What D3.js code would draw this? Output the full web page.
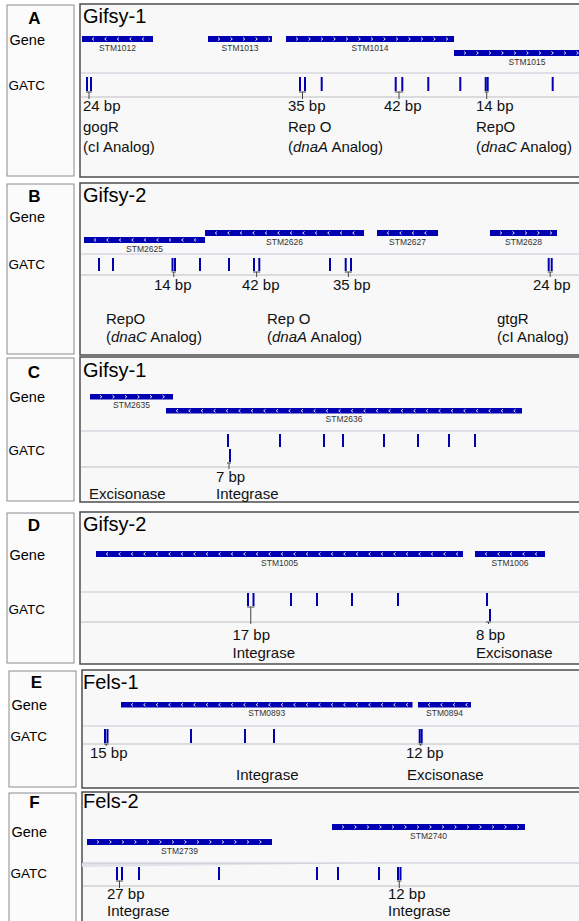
<!DOCTYPE html>
<html><head><meta charset="utf-8">
<script src="https://cdn.jsdelivr.net/npm/d3@7"></script>
<style>
body{margin:0;background:#fff}
svg{display:block}
text{font-family:"Liberation Sans",Arial,Helvetica,sans-serif}
</style>
</head><body>
<svg id="chart" width="579" height="921"></svg>
<script>
// ---------------- DATA (relative position within each 500-unit window) ----------------
const panelIds   = ["A","B","C","D","E","F"];
const phageNames = ["Gifsy-1","Gifsy-2","Gifsy-1","Gifsy-2","Fels-1","Fels-2"];
const trackNames = ["Gene","GATC"];

// genes: name, start, end, strand, row
const genesA = [["STM1012",2,73,"-",0],["STM1013",128,192,"+",0],["STM1014",206,374,"+",0],["STM1015",374,520,"+",1]];
const genesB = [["STM2625",4,125,"-",1],["STM2626",125,284,"-",0],["STM2627",297,358,"-",0],["STM2628",410,477,"+",0]];
const genesC = [["STM2635",10,93,"+",0],["STM2636",86,442,"-",1]];
const genesD = [["STM1005",16,383,"-",0],["STM1006",395,465,"-",0]];
const genesE = [["STM0893",41,332.5,"-",0],["STM0894",338,391,"-",0]];
const genesF = [["STM2740",252,445,"+",0],["STM2739",7,192,"+",1]];

// GATC sites (first lane) and second lane
const gatcA  = [7,11,220,225,241.7,315.7,322.3,348.3,380.3,405.7,407.7,472.7];
const gatcB  = [19,33,92.5,95,120,149,174,179.3,250,265.7,271,468.7,471.7];
const gatcC  = [148,200,244,263,304,338,369,395];
const gatcC2 = [150];
const gatcD  = [168,173.5,211,237,272,318,407];
const gatcD2 = [410];
const gatcE  = [25,27.5,111,165,194,339.7,341.7];
const gatcF  = [37,42,59,139,237,258,299,318,320.5];

// spacing between paired GATC sites: from, to, label, label position
const spacersA = [[7,11,"24 bp",3],[220,225,"35 bp",208],[315.7,322.3,"42 bp",304],[405.7,407.7,"14 bp",396]];
const spacersB = [[92.5,95,"14 bp",74],[174,179.3,"42 bp",162],[265.7,271,"35 bp",253],[468.7,471.7,"24 bp",453]];
const spacersC = [[148,150,"7 bp",136]];
const spacersD = [[168,173.5,"17 bp",152.5],[407,410,"8 bp",396]];
const spacersE = [[25,27.5,"15 bp",10],[339.7,341.7,"12 bp",326]];
const spacersF = [[37,42,"27 bp",27],[318,320.5,"12 bp",308]];

// protein annotations: position, name, analog (optional)
const proteinsA = [[3,"gogR","cI"],[208,"Rep O","dnaA"],[396,"RepO","dnaC"]];
const proteinsB = [[26,"RepO","dnaC"],[187,"Rep O","dnaA"],[417,"gtgR","cI"]];
const proteinsC = [[9,"Excisonase"],[136,"Integrase"]];
const proteinsD = [[152.5,"Integrase"],[396,"Excisonase"]];
const proteinsE = [[156,"Integrase"],[327,"Excisonase"]];
const proteinsF = [[27,"Integrase"],[308,"Integrase"]];

// ---------------- LAYOUT ----------------
const layout = [
 {top:4,  bottom:177, main:80, lb:[7,74], letterX:34.5, letterY:24, titleY:23, geneY:45, gatcY:90, rowY:[36,50], barH:6, sep1:73, sep2:97, lanes:[[77,91]], bpY:111, protY:[132,152]},
 {top:183,bottom:355, main:80, lb:[7,74], letterX:34.5, letterY:202, titleY:202, geneY:222, gatcY:269, rowY:[230,237], barH:6, sep1:254, sep2:275, lanes:[[258,271]], bpY:290, protY:[324,342]},
 {top:357,bottom:502, main:80, lb:[7,74], letterX:34, letterY:378, titleY:377, geneY:402, gatcY:455, rowY:[394,408], barH:5.5, sep1:431, sep2:467, lanes:[[434,447],[449,462]], bpY:481.5, protY:[499]},
 {top:512,bottom:664, main:80, lb:[7,74], letterX:34, letterY:531, titleY:531, geneY:560, gatcY:614, rowY:[551], barH:6, sep1:592, sep2:622, lanes:[[593,606],[609,621]], bpY:640, protY:[657.5]},
 {top:670,bottom:788, main:82, lb:[9,76], letterX:36.5, letterY:688, titleY:689, geneY:710, gatcY:741, rowY:[702], barH:5.5, sep1:726, sep2:744, lanes:[[729,743]], bpY:758, protY:[780]},
 {top:792,bottom:940, main:82, lb:[9,76], letterX:34.5, letterY:808, titleY:808, geneY:837, gatcY:878, rowY:[824,839], barH:6, sep1:863, sep2:886, lanes:[[867,880]], bpY:898.5, protY:[916]}
];

const geneTables = [genesA,genesB,genesC,genesD,genesE,genesF];
const gatcTables = [gatcA,gatcB,gatcC,gatcD,gatcE,gatcF];
const gatc2Tables = [[],[],gatcC2,gatcD2,[],[]];
const spacerTables = [spacersA,spacersB,spacersC,spacersD,spacersE,spacersF];
const proteinTables = [proteinsA,proteinsB,proteinsC,proteinsD,proteinsE,proteinsF];

const BLUE = "#0000b2";
const svg = d3.select("#chart");
const x = d3.scaleLinear().domain([0,500]).range([80,580]);

panelIds.forEach((id,i)=>{
  const L = layout[i];
  const g = svg.append("g");
  // boxes
  g.append("rect").attr("x",L.main).attr("y",L.top).attr("width",620).attr("height",L.bottom-L.top)
    .attr("fill","#f8f8f8").attr("stroke","#4d4d4d").attr("stroke-width",1.5);
  g.append("rect").attr("x",L.lb[0]).attr("y",L.top+1).attr("width",L.lb[1]-L.lb[0]).attr("height",L.bottom-L.top-2)
    .attr("fill","#fbfbfb").attr("stroke","#8c8c8c").attr("stroke-width",1);
  // left labels
  g.append("text").attr("x",L.letterX).attr("y",L.letterY).attr("text-anchor","middle")
    .attr("font-size",17).attr("font-weight","bold").text(id);
  g.append("text").attr("x",L.lb[0]+2.5).attr("y",L.geneY).attr("font-size",14.5).text(trackNames[0]);
  g.append("text").attr("x",L.lb[0]+1.5).attr("y",L.gatcY).attr("font-size",13.5).text(trackNames[1]);
  // title
  g.append("text").attr("x",83).attr("y",L.titleY).attr("font-size",20).text(phageNames[i]);
  // separators
  if (i===5){
    g.append("path").attr("d",`M${L.main},${L.sep1} L${x(297)},${L.sep1} L${L.main},${L.sep1+4} Z`).attr("fill","#e2e2ea");
  }
  g.append("line").attr("x1",L.main+1).attr("x2",580).attr("y1",L.sep1).attr("y2",L.sep1)
    .attr("stroke","#c6c6d2").attr("stroke-width",1.2);
  g.append("line").attr("x1",L.main+1).attr("x2",580).attr("y1",L.sep2).attr("y2",L.sep2)
    .attr("stroke","#d2d2d6").attr("stroke-width",1.6);

  // genes
  geneTables[i].forEach(([name,s,e,strand,row])=>{
    const y0 = L.rowY[row];
    const x0 = x(s), x1 = x(e);
    g.append("rect").attr("x",x0).attr("y",y0).attr("width",x1-x0).attr("height",L.barH).attr("fill",BLUE);
    const cy = y0 + L.barH/2;
    d3.range(x0+11, x1-1, 12.5).forEach(cx=>{
      const d = strand==="+" ? `M${cx-1},${cy-1.5} L${cx+0.8},${cy} L${cx-1},${cy+1.5}`
                             : `M${cx+1},${cy-1.5} L${cx-0.8},${cy} L${cx+1},${cy+1.5}`;
      g.append("path").attr("d",d).attr("fill","none").attr("stroke","#fff").attr("stroke-width",0.9);
    });
    g.append("text").attr("x",(x0+x1)/2 > 560 ? 522 : (x0+x1)/2).attr("y",y0+L.barH+8.5)
      .attr("text-anchor","middle").attr("font-size",8.5).attr("fill","#333").text(name);
  });

  // GATC marks
  const lane0 = L.lanes[0];
  gatcTables[i].forEach(p=>{
    g.append("rect").attr("x",x(p)-1).attr("y",lane0[0]).attr("width",2).attr("height",lane0[1]-lane0[0]).attr("fill",BLUE);
  });
  gatc2Tables[i].forEach(p=>{
    const ln = L.lanes[1];
    g.append("rect").attr("x",x(p)-1).attr("y",ln[0]).attr("width",2).attr("height",ln[1]-ln[0]).attr("fill",BLUE);
  });

  // spacer brackets and labels
  spacerTables[i].forEach(([a,b,label,at])=>{
    const lane = (gatc2Tables[i].includes(a)||gatc2Tables[i].includes(b)) ? 1 : 0;
    const yt = L.lanes[lane][1] + 1;
    const mid = (x(a)+x(b))/2;
    g.append("line").attr("x1",x(a)-1).attr("x2",x(b)+1).attr("y1",yt).attr("y2",yt).attr("stroke","#444").attr("stroke-width",1);
    g.append("line").attr("x1",mid).attr("x2",mid).attr("y1",yt).attr("y2",L.sep2+2).attr("stroke","#444").attr("stroke-width",1);
    g.append("text").attr("x",x(at)).attr("y",L.bpY).attr("font-size",15).attr("fill","#111").text(label);
  });

  // protein annotations
  proteinTables[i].forEach(([at,name,analog])=>{
    const py = analog ? L.protY[0] : L.protY[L.protY.length-1];
    g.append("text").attr("x",x(at)).attr("y",py).attr("font-size",15).attr("fill","#111").text(name);
    if (analog){
      const t = g.append("text").attr("x",x(at)).attr("y",L.protY[1]).attr("font-size",15).attr("fill","#111");
      t.append("tspan").text("(");
      t.append("tspan").attr("font-style", analog==="cI" ? "normal" : "italic").text(analog);
      t.append("tspan").text(" Analog)");
    }
  });
});
</script>
</body></html>
